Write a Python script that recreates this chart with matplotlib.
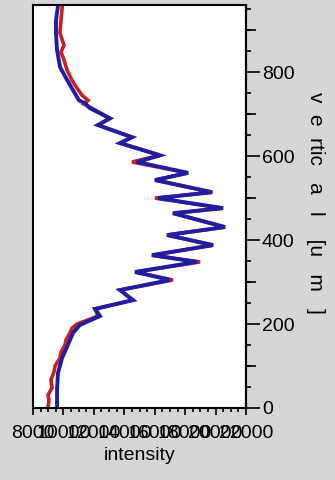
import matplotlib
matplotlib.use("Agg")
import matplotlib.pyplot as plt
from matplotlib.ticker import MultipleLocator, FixedLocator, NullFormatter

plt.rcParams['font.family'] = ['Liberation Sans', 'DejaVu Sans']

# blue profile (intensity vs vertical position)
vert_blue = [975, 924, 893, 852, 812, 786, 757, 733, 726, 714, 690, 674, 645, 631,
             602, 586, 560, 543, 514, 500, 476, 464, 431, 412, 388, 364, 348, 324,
             305, 281, 257, 236, 219, 198, 179, 145, 119, 83, 43, 0]
int_blue = [9710, 9510, 9510, 9580, 9780, 10170, 10630, 11020, 11420, 11750, 13060,
            12270, 14510, 13720, 16350, 14840, 18190, 16020, 19770, 16220, 20490,
            17200, 20620, 16810, 19830, 15820, 18780, 14710, 17000, 13720, 14570,
            12080, 12400, 11090, 10630, 10230, 9910, 9640, 9580, 9580]

# red profile
vert_red = [975, 924, 893, 864, 848, 829, 805, 781, 762, 745, 733, 724, 714, 690,
            674, 645, 631, 602, 586, 560, 543, 514, 500, 476, 464, 431, 412, 388,
            364, 348, 324, 305, 281, 257, 236, 219, 200, 190, 179, 162, 150, 133,
            119, 100, 86, 67, 48, 31, 19, 0]
int_red = [9970, 9840, 9770, 10040, 9840, 10040, 10240, 10560, 10890, 11220, 11620,
           11350, 11880, 13060, 12270, 14510, 13720, 16350, 14510, 18190, 16020,
           19770, 16020, 20490, 17200, 20620, 16810, 19830, 15820, 18980, 14710,
           17200, 13720, 14570, 12080, 12270, 10890, 10560, 10430, 10170, 10100,
           9840, 9770, 9450, 9380, 9180, 9250, 8990, 9050, 8990]

xticks = [8000, 10000, 12000, 14000, 16000, 18000, 20000, 22000]
yticks = [0, 200, 400, 600, 800]
ymid = [100, 300, 500, 700, 900]

fig = plt.figure(figsize=(3.35, 4.8), dpi=100, facecolor='#d6d6d6')
ax = fig.add_axes([33/335, 72/480, 213/335, 403/480])
ax.set_facecolor('white')

ax.plot(int_red, vert_red, color='#cc2020', lw=2.6, solid_joinstyle='miter')
ax.plot(int_blue, vert_blue, color='#1e1ea4', lw=2.8, solid_joinstyle='miter')

ax.set_xlim(8000, 22000)
ax.set_ylim(0, 960)

ax.xaxis.set_major_locator(FixedLocator(xticks))
ax.xaxis.set_minor_locator(MultipleLocator(500))
ax.set_xticklabels([str(t) for t in xticks])
ax.yaxis.tick_right()
ax.yaxis.set_major_locator(FixedLocator(yticks))
ax.yaxis.set_minor_locator(MultipleLocator(50))

ax.tick_params(axis='x', which='major', direction='out', length=5, width=1.2,
               pad=7, labelsize=14)
ax.tick_params(axis='x', which='minor', direction='out', length=3, width=1.2)
ax.tick_params(axis='y', which='major', direction='out', length=10, width=1.2,
               pad=1.5, labelsize=14)
ax.tick_params(axis='y', which='minor', direction='out', length=3.5, width=1.2)

# medium ticks on the right axis
sec = ax.secondary_yaxis('right')
sec.yaxis.set_major_locator(FixedLocator(ymid))
sec.yaxis.set_major_formatter(NullFormatter())
sec.tick_params(axis='y', which='major', direction='out', length=7, width=1.2)
sec.tick_params(axis='y', which='minor', length=0)
sec.spines['right'].set_linewidth(1.5)

for s in ax.spines.values():
    s.set_linewidth(1.5)
    s.set_color('black')

fig.text(140/335, 1 - 455/480, 'intensity', fontsize=14, ha='center', va='center')
fig.text(316/335, 1 - 203/480, 'v  e  rtic   a   l    [u   m   ]', fontsize=15,
         rotation=-90, ha='center', va='center')

fig.savefig('out.png', dpi=100, facecolor=fig.get_facecolor())
